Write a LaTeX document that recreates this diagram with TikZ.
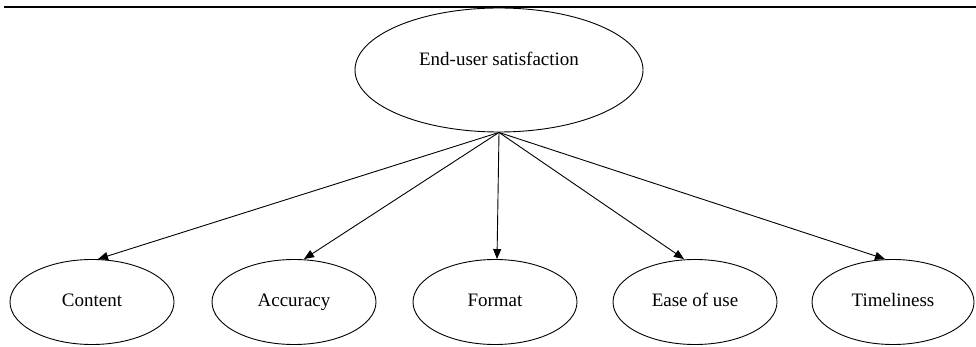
\documentclass[tikz,border=0pt]{standalone}
\usepackage{fontspec}
\setmainfont{Liberation Serif}
\usetikzlibrary{shapes.geometric,arrows.meta}
\begin{document}
\begin{tikzpicture}[x=1pt,y=-1pt,
  lbl/.style={font=\fontsize{19}{22}\selectfont,inner sep=0pt},
  oval/.style={ellipse,draw,line width=0.9pt,minimum width=164pt,minimum height=85pt,inner sep=0pt,
    text height=13pt,text depth=4pt,font=\fontsize{19}{22}\selectfont},
  link/.style={-{Triangle[length=10pt,width=8pt]},line width=0.9pt}]
\useasboundingbox (0,0) rectangle (976,347);
\coordinate (ruleL) at (4,7);
\coordinate (ruleR) at (976,7);
\draw[line width=1.6pt] (ruleL) -- (ruleR);
\node[oval,minimum width=288pt,minimum height=124pt] (top) at (499,70) {};
\node[lbl] (toplabel) at (499,59) {End-user satisfaction};
\node[oval] (content) at (92,302) {Content};
\node[oval] (accuracy) at (294,302) {Accuracy};
\node[oval] (format) at (495,302) {Format};
\node[oval] (ease) at (695,302) {Ease of use};
\node[oval,minimum width=162pt] (time) at (893,302) {Timeliness};
\draw[link] (top.south) -- ([xshift=6pt]content.north);
\draw[link] (top.south) -- ([xshift=10pt]accuracy.north);
\draw[link] (top.south) -- ([xshift=2pt]format.north);
\draw[link] (top.south) -- ([xshift=-11pt]ease.north);
\draw[link] (top.south) -- ([xshift=-8pt]time.north);
\end{tikzpicture}
\end{document}
